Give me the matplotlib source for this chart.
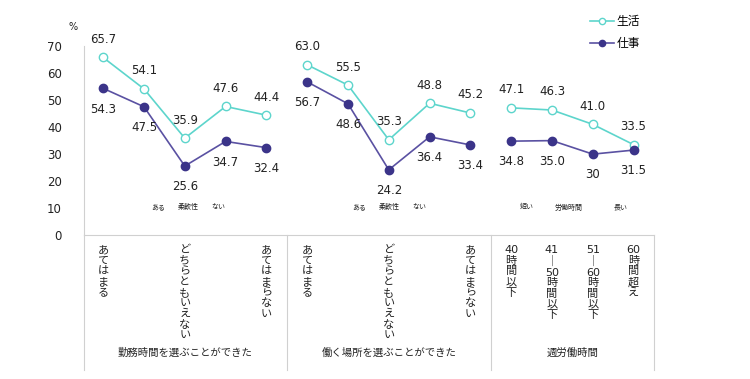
import matplotlib
matplotlib.use("Agg")
import matplotlib.pyplot as plt
import numpy as np

plt.rcParams['font.family'] = ['DejaVu Sans', 'Noto Sans CJK JP']

# data
seikatsu = [65.7, 54.1, 35.9, 47.6, 44.4, 63.0, 55.5, 35.3, 48.8, 45.2, 47.1, 46.3, 41.0, 33.5]
shigoto = [54.3, 47.5, 25.6, 34.7, 32.4, 56.7, 48.6, 24.2, 36.4, 33.4, 34.8, 35.0, 30, 31.5]
shigoto_txt = ["54.3", "47.5", "25.6", "34.7", "32.4", "56.7", "48.6", "24.2", "36.4", "33.4",
               "34.8", "35.0", "30", "31.5"]
groups = [(0, 5), (5, 10), (10, 14)]
group_names = ["勤務時間を選ぶことができた", "働く場所を選ぶことができた", "週労働時間"]
tick_pos = [0, 2, 4, 5, 7, 9, 10, 11, 12, 13]
tick_labels = ["あてはまる", "どちらともいえない", "あてはまらない",
               "あてはまる", "どちらともいえない", "あてはまらない",
               ["40", "時", "間", "以", "下"], ["41", "｜", "50", "時", "間", "以", "下"],
               ["51", "｜", "60", "時", "間", "以", "下"], ["60", "時", "間", "超", "え"]]
notes = [(1.35, "ある"), (2.08, "柔軟性"), (2.82, "ない"),
         (6.27, "ある"), (7.01, "柔軟性"), (7.75, "ない"),
         (10.39, "短い"), (11.4, "労働時間"), (12.67, "長い")]

c_life = "#5DD5CC"
c_work_m = "#3B3489"
c_work_l = "#5A51A2"
gray = "#D0D0D0"
txt = "#222222"

# vertical (stacked) labels
vlabels = ["\n".join(t) for t in tick_labels]

fig = plt.figure(figsize=(7.5, 3.79), dpi=100)
ax = fig.add_axes([0.112, 0.379, 0.76, 0.5])

x = np.arange(len(seikatsu))
for i, (a, b) in enumerate(groups):
    ax.plot(x[a:b], seikatsu[a:b], color=c_life, lw=1.2, marker="o", ms=6,
            mfc="white", mec=c_life, mew=1.0, label="生活" if i == 0 else None, zorder=3)
    ax.plot(x[a:b], shigoto[a:b], color=c_work_l, lw=1.2, marker="o", ms=6,
            mfc=c_work_m, mec=c_work_m, label="仕事" if i == 0 else None, zorder=3)

for xi, v in zip(x, seikatsu):
    ax.annotate(f"{v:.1f}", (xi, v), xytext=(0, 13), textcoords="offset points",
                ha="center", va="center", fontsize=8.5, color=txt)
for xi, v, t in zip(x, shigoto, shigoto_txt):
    ax.annotate(t, (xi, v), xytext=(0, -15), textcoords="offset points",
                ha="center", va="center", fontsize=8.5, color=txt)

for xn, t in notes:
    ax.text(xn, 10.5, t, ha="center", va="center", fontsize=5, color=txt)

ax.set_xlim(-0.47, 13.5)
ax.set_ylim(0, 70)
ax.set_yticks(range(0, 71, 10))
ax.tick_params(axis="y", length=0, pad=16, labelsize=8.5, labelcolor=txt)
ax.set_xticks(tick_pos)
ax.set_xticklabels(vlabels, fontsize=8, color=txt, va="top", linespacing=1.08)
ax.tick_params(axis="x", length=0, pad=7)

for s in ["top", "right"]:
    ax.spines[s].set_visible(False)
ax.spines["left"].set_color(gray)
ax.spines["bottom"].set_color(gray)

trans = ax.get_xaxis_transform()
for xs in [-0.47, 4.5, 9.5, 13.5]:
    ax.plot([xs, xs], [0, -0.71], transform=trans, color=gray, lw=0.8, clip_on=False)
for (a, b), name in zip(groups, group_names):
    ax.text((a + b - 1) / 2, -0.62, name, transform=trans, ha="center", va="center",
            fontsize=7.5, color=txt)

ax.text(-0.75, 1.1, "%", transform=trans, ha="center", va="center", fontsize=7, color=txt)

fig.legend(loc="upper left", bbox_to_anchor=(584 / 750, 1 - 9 / 379), frameon=False,
           fontsize=8.5, labelspacing=0.75, handlelength=2.0, handletextpad=0.25,
           borderpad=0, markerscale=0.75)

fig.savefig("out.png", dpi=100)
